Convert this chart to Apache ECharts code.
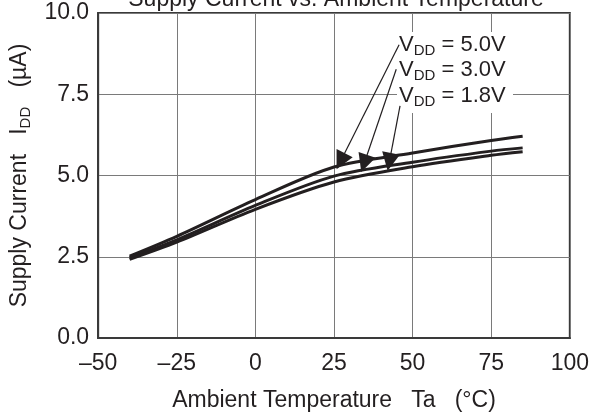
<!DOCTYPE html>
<html>
<head>
<meta charset="utf-8">
<script src="https://cdn.jsdelivr.net/npm/echarts@6/dist/echarts.min.js"></script>
<style>
  html, body { margin: 0; padding: 0; background: #fff; }
  #main { width: 592px; height: 417px; }
</style>
</head>
<body>
<div id="main"></div>
<script>
// ambient temperature (°C) and supply current (µA)
const temps = [-40, -25, 0, 25, 50, 75, 85];
const idd50 = [2.52, 3.13, 4.26, 5.26, 5.69, 6.08, 6.21];
const idd30 = [2.47, 3.02, 4.08, 4.98, 5.41, 5.75, 5.85];
const idd18 = [2.42, 2.95, 3.96, 4.80, 5.27, 5.62, 5.73];

const xTicks = [-50, -25, 0, 25, 50, 75, 100];
const yTicks = [0, 2.5, 5, 7.5, 10];

// arrows from the VDD labels to each curve: [start, head] in data coords
const arrows = [
  [[45.7, 9.02], [27.1, 5.44]],
  [[44.8, 8.27], [34.6, 5.37]],
  [[46.0, 7.14], [42.6, 5.42]]
];

const font = "'Liberation Sans', Arial, Helvetica, sans-serif";
const ink = '#231f20';

const pairs = (ys) => temps.map((t, i) => [t, ys[i]]);

const chartDom = document.getElementById('main');
const myChart = echarts.init(chartDom);

const curve = (name, ys, arrow) => ({
  name: name,
  type: 'line',
  data: pairs(ys),
  smooth: 0.3,
  symbol: 'none',
  lineStyle: { color: ink, width: 3 },
  z: 5,
  markLine: {
    silent: true,
    symbol: ['none', 'triangle'],
    symbolSize: 18,
    label: { show: false },
    lineStyle: { color: ink, width: 1.2, type: 'solid' },
    itemStyle: { color: ink },
    data: [[{ coord: arrow[0] }, { coord: arrow[1] }]]
  }
});

const option = {
  animation: false,
  backgroundColor: '#fff',
  textStyle: { fontFamily: font, color: ink },
  title: {
    text: 'Supply Current vs. Ambient Temperature',
    left: 331,
    textAlign: 'center',
    top: -17,
    textStyle: { fontFamily: font, fontSize: 23, fontWeight: 'normal', color: ink }
  },
  grid: {
    left: 90,
    right: 21,
    top: 13,
    bottom: 78,
    show: true,
    borderColor: '#3a3a3a',
    borderWidth: 2
  },
  xAxis: {
    type: 'value',
    min: xTicks[0],
    max: xTicks[xTicks.length - 1],
    interval: 25,
    name: 'Ambient Temperature   Ta   (°C)',
    nameLocation: 'middle',
    nameGap: 51,
    nameTextStyle: { fontFamily: font, fontSize: 23, color: ink },
    axisLine: { show: true, onZero: false, lineStyle: { color: '#3a3a3a', width: 2 } },
    axisTick: { show: false },
    axisLabel: {
      margin: 14,
      fontFamily: font,
      fontSize: 23,
      color: ink,
      formatter: (v) => String(v).replace('-', '\u2013')
    },
    splitLine: { show: true, lineStyle: { color: '#7a7a7a', width: 1 } }
  },
  yAxis: {
    type: 'value',
    min: yTicks[0],
    max: yTicks[yTicks.length - 1],
    interval: 2.5,
    name: '{n|Supply Current   I}{s|DD}{n|   (\u00b5A)}',
    nameLocation: 'middle',
    nameGap: 62,
    nameTextStyle: {
      rich: {
        n: { fontFamily: font, fontSize: 23, color: ink, lineHeight: 28, verticalAlign: 'middle' },
        s: { fontFamily: font, fontSize: 15, color: ink, lineHeight: 28, verticalAlign: 'bottom' }
      }
    },
    axisLine: { show: true, onZero: false, lineStyle: { color: '#3a3a3a', width: 2 } },
    axisTick: { show: false },
    axisLabel: {
      margin: 9,
      fontFamily: font,
      fontSize: 23,
      color: ink,
      formatter: (v) => v.toFixed(1)
    },
    splitLine: { show: true, lineStyle: { color: '#7a7a7a', width: 1 } }
  },
  graphic: [
    {
      type: 'rect',
      z: 1,
      silent: true,
      shape: { x: 397, y: 32, width: 116, height: 81 },
      style: { fill: '#fff' }
    },
    ...['5.0V', '3.0V', '1.8V'].map((v, i) => ({
      type: 'text',
      z: 10,
      silent: true,
      left: 399,
      top: [34, 59, 85][i],
      style: {
        text: '{n|V}{s|DD}{n| = ' + v + '}',
        rich: {
          n: { fontFamily: font, fontSize: 22, fill: ink, lineHeight: 26, verticalAlign: 'middle' },
          s: { fontFamily: font, fontSize: 15, fill: ink, lineHeight: 26, verticalAlign: 'bottom' }
        }
      }
    }))
  ],
  series: [
    curve('VDD = 5.0V', idd50, arrows[0]),
    curve('VDD = 3.0V', idd30, arrows[1]),
    curve('VDD = 1.8V', idd18, arrows[2])
  ]
};

option && myChart.setOption(option);
</script>
</body>
</html>
